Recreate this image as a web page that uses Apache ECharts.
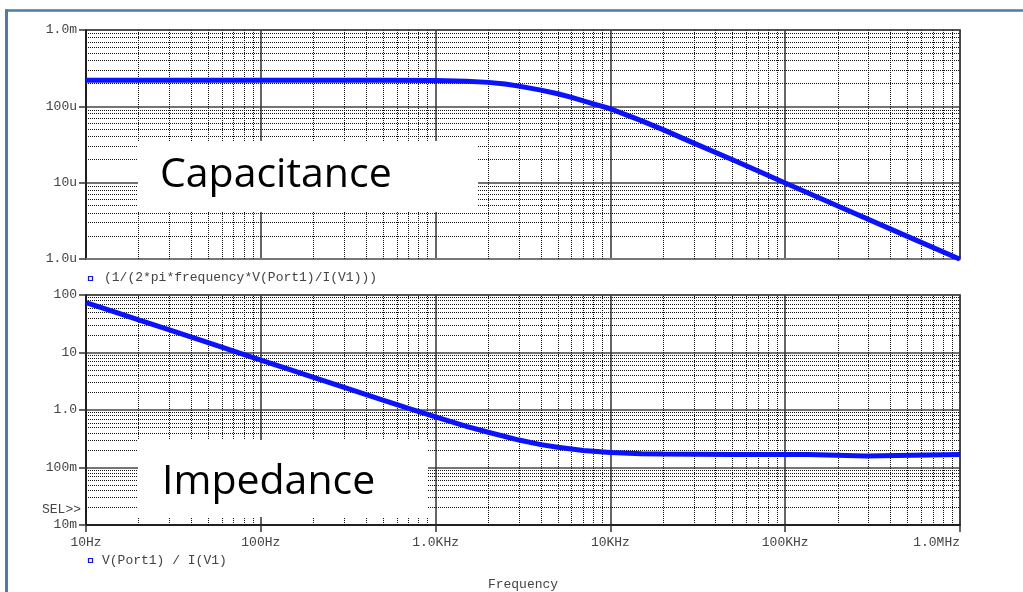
<!DOCTYPE html>
<html><head><meta charset="utf-8">
<script src="https://cdn.jsdelivr.net/npm/echarts@6/dist/echarts.min.js"></script>
<style>html,body{margin:0;padding:0;background:#fff}#c{width:1023px;height:592px}</style>
</head><body><div id="c"></div>
<script>
// Capacitance curve (frequency in Hz, value in microfarads)
const capFreq  = [10, 100, 500, 1000, 1500, 2000, 2500, 3000, 4000, 5000, 6000, 7000, 8000, 10000, 12000, 15000, 20000, 30000, 50000, 70000, 100000, 200000, 500000, 1000000];
const capValue = [220, 220, 220, 218, 213, 206, 196, 184, 163, 146, 131, 118, 108, 93, 79, 65, 49.5, 33, 20, 14.2, 9.9, 4.95, 1.98, 0.99];
// Impedance curve (frequency in Hz, value in ohms)
const impFreq  = [10, 15, 20, 30, 50, 70, 100, 150, 200, 300, 500, 700, 1000, 1500, 2000, 3000, 4000, 5000, 7000, 10000, 15000, 20000, 50000, 100000, 135000, 136000, 290000, 291000, 1000000];
const impValue = [74, 49.5, 37, 24.7, 14.8, 10.6, 7.4, 4.95, 3.7, 2.47, 1.49, 1.07, 0.76, 0.52, 0.41, 0.30, 0.25, 0.225, 0.198, 0.182, 0.174, 0.171, 0.169, 0.168, 0.168, 0.159, 0.159, 0.168, 0.168];

const xTickLabels   = {1:'10Hz', 2:'100Hz', 3:'1.0KHz', 4:'10KHz', 5:'100KHz', 6:'1.0MHz'};
const capTickLabels = {'0':'1.0u', '1':'10u', '2':'100u', '3':'1.0m'};
const impTickLabels = {'-2':'10m', '-1':'100m', '0':'1.0', '1':'10', '2':'100'};
const capLegend = '(1/(2*pi*frequency*V(Port1)/I(V1)))';
const impLegend = 'V(Port1) / I(V1)';
const xName = 'Frequency';
const capTitle = 'Capacitance';
const impTitle = 'Impedance';

const MONO = 'Liberation Mono';
const LBL = '#444';
const BLUE = '#0a12ff';

function minorValues(lo, hi) {
  const out = [];
  for (let e = lo; e < hi; e++) for (let m = 2; m <= 9; m++) out.push(+(m * Math.pow(10, e)).toPrecision(6));
  return out;
}
function exp(v) { return String(Math.round(Math.log10(v))); }

function gridSeries(idx, yLo, yHi) {
  const data = minorValues(1, 6).map(v => ({xAxis: v}))
    .concat(minorValues(yLo, yHi).map(v => ({yAxis: v})));
  return {
    type: 'line', xAxisIndex: idx, yAxisIndex: idx, data: [], silent: true, z: 1,
    markLine: {
      silent: true, symbol: 'none', label: {show: false}, animation: false, precision: 6,
      emphasis: {disabled: true},
      lineStyle: {type: [1, 1], color: '#111', width: 1},
      data
    }
  };
}

function xAxisCfg(idx, showLabels) {
  return {
    type: 'log', logBase: 10, gridIndex: idx, min: 10, max: 1e6,
    axisLine: {show: true, onZero: false, lineStyle: {color: showLabels ? '#111' : '#777', width: showLabels ? 1.5 : 2}},
    axisTick: {show: showLabels, inside: false, length: 7, lineStyle: {color: '#333', width: 1.5}},
    axisLabel: {
      show: showLabels, margin: 11, fontFamily: MONO, fontSize: 13, color: LBL,
      alignMaxLabel: 'right',
      formatter: v => xTickLabels[exp(v)] || ''
    },
    splitLine: {show: true, lineStyle: {color: '#333', width: 1.5}},
    name: showLabels ? xName : '', nameLocation: 'middle', nameGap: 53,
    nameTextStyle: {fontFamily: MONO, fontSize: 13, color: LBL}
  };
}
function yAxisCfg(idx, min, max, labels) {
  return {
    type: 'log', logBase: 10, gridIndex: idx, min, max,
    axisLine: {show: true, onZero: false, lineStyle: {color: '#111', width: 1.5}},
    axisTick: {show: true, inside: false, length: 7, lineStyle: {color: '#333', width: 1.5}},
    axisLabel: {
      margin: 9, fontFamily: MONO, fontSize: 13, color: LBL,
      formatter: v => labels[exp(v)] || ''
    },
    splitLine: {show: true, lineStyle: {color: '#444', width: 1.5}}
  };
}

const chart = echarts.init(document.getElementById('c'), null, {renderer: 'canvas'});
chart.setOption({
  backgroundColor: '#fff',
  animation: false,
  grid: [
    {left: 86, right: 63, top: 30, height: 229, show: true, borderColor: '#777', borderWidth: 2, backgroundColor: 'transparent'},
    {left: 86, right: 63, top: 295, height: 230, show: true, borderColor: '#777', borderWidth: 2, backgroundColor: 'transparent'}
  ],
  xAxis: [xAxisCfg(0, false), xAxisCfg(1, true)],
  yAxis: [yAxisCfg(0, 1, 1000, capTickLabels), yAxisCfg(1, 0.01, 100, impTickLabels)],
  series: [
    gridSeries(0, 0, 3),
    gridSeries(1, -2, 2),
    {
      type: 'line', xAxisIndex: 0, yAxisIndex: 0, z: 5, showSymbol: false, smooth: false,
      lineStyle: {color: BLUE, width: 5}, itemStyle: {color: BLUE},
      data: capFreq.map((f, i) => [f, capValue[i]])
    },
    {
      type: 'line', xAxisIndex: 1, yAxisIndex: 1, z: 5, showSymbol: false, smooth: false,
      lineStyle: {color: BLUE, width: 5}, itemStyle: {color: BLUE},
      data: impFreq.map((f, i) => [f, impValue[i]])
    }
  ],
  graphic: [
    {type: 'line', z: 100, shape: {x1: 5, y1: 10.5, x2: 1023, y2: 10.5}, style: {stroke: '#4f7aa6', lineWidth: 2.5}},
    {type: 'line', z: 100, shape: {x1: 6.5, y1: 9.5, x2: 6.5, y2: 592}, style: {stroke: '#4f7aa6', lineWidth: 3}},
    {type: 'rect', z: 50, shape: {x: 138, y: 141, width: 340, height: 71}, style: {fill: '#fff'}},
    {type: 'text', z: 51, x: 160, y: 175, style: {text: capTitle, font: '41px "Open Sans"', fill: '#000', verticalAlign: 'middle'}},
    {type: 'rect', z: 50, shape: {x: 138, y: 440, width: 290, height: 77}, style: {fill: '#fff'}},
    {type: 'text', z: 51, x: 162, y: 482, style: {text: impTitle, font: '41px "Open Sans"', fill: '#000', verticalAlign: 'middle'}},
    {type: 'rect', z: 100, shape: {x: 88.5, y: 276.5, width: 4, height: 4}, style: {fill: '#fff', stroke: BLUE, lineWidth: 1.2}},
    {type: 'text', z: 100, x: 104, y: 278, style: {text: capLegend, font: '13px "Liberation Mono"', fill: LBL, verticalAlign: 'middle'}},
    {type: 'rect', z: 100, shape: {x: 88.5, y: 558.5, width: 4, height: 4}, style: {fill: '#fff', stroke: BLUE, lineWidth: 1.2}},
    {type: 'text', z: 100, x: 102, y: 561, style: {text: impLegend, font: '13px "Liberation Mono"', fill: LBL, verticalAlign: 'middle'}},
    {type: 'text', z: 100, x: 81, y: 510, style: {text: 'SEL>>', font: '13px "Liberation Mono"', fill: LBL, align: 'right', verticalAlign: 'middle'}}
  ]
});
</script></body></html>
